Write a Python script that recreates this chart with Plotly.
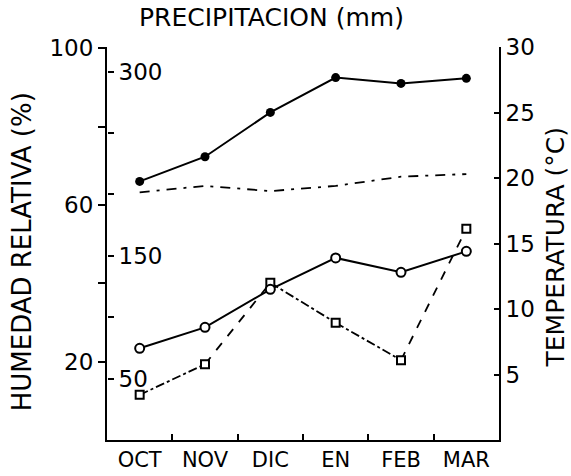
import plotly.graph_objects as go

# ---- data ----
months = ["OCT", "NOV", "DIC", "EN", "FEB", "MAR"]
humedad = [66.0, 72.3, 83.6, 92.5, 91.0, 92.3]          # % (left axis)
temp_max = [18.9, 19.4, 19.0, 19.4, 20.1, 20.3]         # °C (right axis, unmarked dash-dot line)
temp_media = [7.0, 8.6, 11.5, 13.9, 12.8, 14.4]         # °C (right axis, open circles)
precip = [36.8, 61.7, 128.0, 95.5, 65.0, 172.0]         # mm (inner left axis, squares)
precip_seg_dash = ["dashdot", "dash", "dashdot", "dashdot", "dash"]

hum_ticks = [20, 40, 60, 80, 100]
hum_text = ["20", "", "60", "", "100"]
pp_ticks = [50, 100, 150, 200, 250, 300]
pp_text = ["50", "", "150", "", "", "300"]
t_ticks = [5, 10, 15, 20, 25, 30]
t_text = ["5", "10", "15", "20", "25", "30"]

FONT = "DejaVu Sans"
BLACK = "black"

fig = go.Figure()

# humidity: filled circles, solid line
fig.add_trace(go.Scatter(
    x=months, y=humedad, mode="lines+markers", yaxis="y",
    line=dict(color=BLACK, width=2),
    marker=dict(symbol="circle", size=9, color=BLACK),
    name="Humedad relativa"))

# unmarked dash-dot line (temperature axis)
fig.add_trace(go.Scatter(
    x=months, y=temp_max, mode="lines", yaxis="y3",
    line=dict(color=BLACK, width=1.8, dash="10px,7px,3px,7px"),
    name="Temperatura máx."))

# temperature: open circles, solid line
fig.add_trace(go.Scatter(
    x=months, y=temp_media, mode="lines+markers", yaxis="y3",
    line=dict(color=BLACK, width=2),
    marker=dict(symbol="circle", size=9, color="white",
                line=dict(color=BLACK, width=2)),
    name="Temperatura"))

# precipitation: segments with varying dash + open squares
for i in range(len(months) - 1):
    fig.add_trace(go.Scatter(
        x=months[i:i + 2], y=precip[i:i + 2], mode="lines", yaxis="y2",
        line=dict(color=BLACK, width=1.8, dash=precip_seg_dash[i]),
        showlegend=False))
fig.add_trace(go.Scatter(
    x=months, y=precip, mode="markers", yaxis="y2",
    marker=dict(symbol="square", size=8, color="white",
                line=dict(color=BLACK, width=2)),
    name="Precipitación"))

tick_font = dict(family=FONT, size=23, color=BLACK)

fig.update_layout(
    width=571, height=476,
    margin=dict(l=107, r=72, t=47, b=36),
    paper_bgcolor="white", plot_bgcolor="white",
    showlegend=False,
    font=dict(family=FONT, size=23, color=BLACK),
    xaxis=dict(
        type="category", range=[-0.5, 5.5], automargin=False,
        showline=True, linecolor=BLACK, linewidth=2,
        ticks="inside", tickson="boundaries", ticklen=6, tickwidth=2,
        tickcolor=BLACK, showgrid=False, zeroline=False,
        ticklabelstandoff=0,
        tickfont=dict(family=FONT, size=21, color=BLACK)),
    yaxis=dict(
        range=[0, 100.3], tickvals=hum_ticks, ticktext=hum_text,
        automargin=False,
        showline=True, linecolor=BLACK, linewidth=2,
        ticks="outside", ticklen=7, tickwidth=2, tickcolor=BLACK,
        showgrid=False, zeroline=False, tickfont=tick_font),
    yaxis2=dict(
        range=[0, 320], overlaying="y", anchor="free", position=0,
        side="right", tickvals=pp_ticks, ticktext=pp_text,
        automargin=False,
        ticks="outside", ticklen=6, tickwidth=2, tickcolor=BLACK,
        showline=False, showgrid=False, zeroline=False,
        ticklabelstandoff=0, tickfont=tick_font),
    yaxis3=dict(
        range=[0, 30], overlaying="y", anchor="x", side="right",
        tickvals=t_ticks, ticktext=t_text, automargin=False,
        showline=True, linecolor=BLACK, linewidth=2,
        ticks="inside", ticklen=5, tickwidth=2, tickcolor=BLACK,
        showgrid=False, zeroline=False, tickfont=tick_font),
    annotations=[
        dict(text="HUMEDAD RELATIVA (%)", xref="paper", yref="paper",
             x=-0.217, y=0.48, textangle=-90, showarrow=False,
             xanchor="center", yanchor="middle",
             font=dict(family=FONT, size=26, color=BLACK)),
        dict(text="TEMPERATURA (°C)", xref="paper", yref="paper",
             x=1.143, y=0.49, textangle=-90, showarrow=False,
             xanchor="center", yanchor="middle",
             font=dict(family=FONT, size=25, color=BLACK)),
        dict(text="PRECIPITACION (mm)", xref="paper", yref="paper",
             x=0.42, y=1.074, showarrow=False,
             xanchor="center", yanchor="middle",
             font=dict(family=FONT, size=25, color=BLACK)),
    ],
)

fig.write_html("out.html")
